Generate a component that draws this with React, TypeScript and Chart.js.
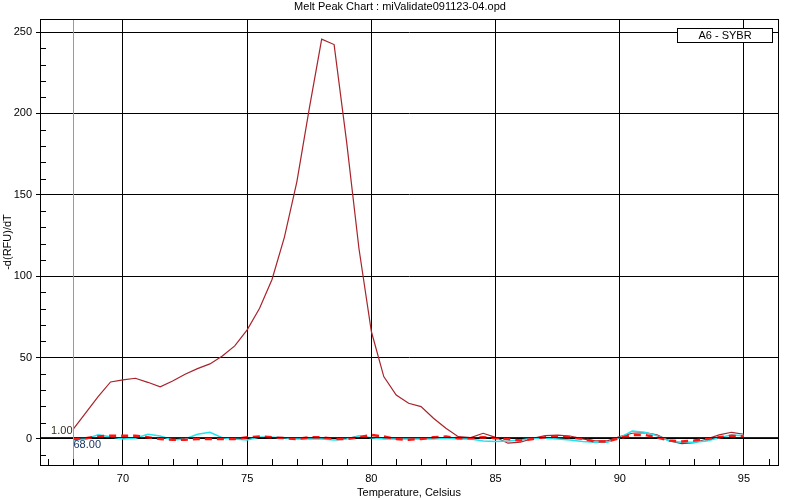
import { useEffect, useRef } from "react";
import { Chart, registerables } from "chart.js";

Chart.register(...registerables);

const TITLE = "Melt Peak Chart : miValidate091123-04.opd";
const X_TITLE = "Temperature, Celsius";
const Y_TITLE = "-d(RFU)/dT";
const LEGEND_LABEL = "A6 - SYBR";

const temperatures = [
  68, 68.5, 69, 69.5, 70, 70.5, 71, 71.5, 72, 72.5, 73, 73.5, 74, 74.5, 75, 75.5,
  76, 76.5, 77, 77.5, 78, 78.5, 79, 79.5, 80, 80.5, 81, 81.5, 82, 82.5, 83, 83.5,
  84, 84.5, 85, 85.5, 86, 86.5, 87, 87.5, 88, 88.5, 89, 89.5, 90, 90.5, 91, 91.5,
  92, 92.5, 93, 93.5, 94, 94.5, 95,
];

const sybrPeak = [
  6, 16, 26, 35, 36.3, 37.3, 34.8, 32, 35.6, 39.8, 43.2, 46.1, 51, 57.2, 67, 80.3,
  98, 124, 158, 203, 245.6, 242.3, 183, 117, 66, 38.3, 27, 21.9, 19.9, 12.7, 6.6, 1.4,
  0.8, 3.5, 1, -2.6, -2, 0.4, 2, 2.4, 1.8, 0, -1.2, -1.2, 1.4, 3.5, 3.9, 2.5,
  -1.2, -2.9, -2.3, 0, 2.5, 4.1, 2.9,
];

const cyanTrace = [
  -0.6, 0, 2.5, 1.4, 0, 0.4, 2.9, 1.8, -0.6, 0, 2.9, 4.1, 0.8, 0, -0.6, 1.2,
  1, 0.8, 0, 0, 0, -0.6, 0, 2, 0.8, 0, 0, 0, 0, 0, 0.4, 0,
  0, -1.2, -1.6, -1.2, -0.6, 0.4, 0.4, 0, -0.6, -1.6, -2, -2, 0.8, 4.9, 4.1, 2,
  -1.2, -2, -2, -1.2, 0.8, 2.5, 2,
];

const redTrace = [
  0, 0.5, 1.5, 2, 2, 2, 1, 0, -0.5, -0.5, 0, 0, 0, 0, 1, 1.5,
  1, 0.5, 0, 1, 1, 0, 0, 1, 2.5, 1.5, 0, -0.5, 0, 1, 1.5, 0.5,
  0.5, 1, 0.5, 0, -1, 0, 1, 1.5, 1, 0, -1.5, -1.5, 0.5, 2.5, 2.5, 1,
  -1, -1.5, -1, 0, 1, 2, 1.5,
];

const xMajorTicks = [70, 75, 80, 85, 90, 95];
const xMinorTicks = [67, 68, 69, 71, 72, 73, 74, 76, 77, 78, 79, 81, 82, 83, 84, 86, 87, 88, 89, 91, 92, 93, 94, 96];
const yMajorTicks = [0, 50, 100, 150, 200, 250];
const yMinorTicks = [-10, 10, 20, 30, 40, 60, 70, 80, 90, 110, 120, 130, 140, 160, 170, 180, 190, 210, 220, 230, 240];

const X_MIN = 66.66;
const X_MAX = 96.37;
const Y_MIN = -16;
const Y_MAX = 258;

const CURSOR_X = 68;
const CURSOR_Y = 1;
const CURSOR_X_LABEL = "68.00";
const CURSOR_Y_LABEL = "1.00";

const FONT_FAMILY = "'Liberation Sans', Arial, sans-serif";

const toPoints = (ys: number[]) => temperatures.map((t, i) => ({ x: t, y: ys[i] }));

const decorPlugin = {
  id: "decor",
  beforeDraw(chart: any) {
    const { ctx } = chart;
    ctx.save();
    ctx.fillStyle = "#ffffff";
    ctx.fillRect(0, 0, chart.width, chart.height);
    ctx.restore();
  },
  afterDatasetsDraw(chart: any) {
    const { ctx, chartArea } = chart;
    const xs = chart.scales.x;
    const ys = chart.scales.y;
    ctx.save();
    // cursor lines
    const cx = Math.round(xs.getPixelForValue(CURSOR_X)) + 0.5;
    const cy = Math.round(ys.getPixelForValue(CURSOR_Y)) + 0.5;
    ctx.lineWidth = 1;
    ctx.strokeStyle = "#0a0ae6";
    ctx.beginPath();
    ctx.moveTo(chartArea.left, cy);
    ctx.lineTo(chartArea.right, cy);
    ctx.stroke();
    ctx.strokeStyle = "#f07868";
    ctx.beginPath();
    ctx.moveTo(cx, chartArea.top);
    ctx.lineTo(cx, chartArea.bottom);
    ctx.stroke();

    // minor ticks
    ctx.strokeStyle = "#000";
    ctx.beginPath();
    for (const v of yMinorTicks) {
      const py = Math.round(ys.getPixelForValue(v)) + 0.5;
      ctx.moveTo(chartArea.left, py);
      ctx.lineTo(chartArea.left + 6, py);
    }
    for (const v of xMinorTicks) {
      const px = Math.round(xs.getPixelForValue(v)) + 0.5;
      ctx.moveTo(px, chartArea.bottom);
      ctx.lineTo(px, chartArea.bottom - 6);
    }
    ctx.stroke();

    // frame
    ctx.strokeRect(
      Math.round(chartArea.left) + 0.5,
      Math.round(chartArea.top) + 0.5,
      Math.round(chartArea.right - chartArea.left),
      Math.round(chartArea.bottom - chartArea.top)
    );

    // cursor labels
    ctx.font = `11px ${FONT_FAMILY}`;
    ctx.textBaseline = "middle";
    ctx.textAlign = "right";
    ctx.fillStyle = "#33301a";
    ctx.fillText(CURSOR_Y_LABEL, cx - 1, cy - 7);
    ctx.textAlign = "left";
    ctx.fillStyle = "#1a3466";
    ctx.fillText(CURSOR_X_LABEL, cx, cy + 7);

    // legend box
    const bx = 677.5, by = 28.5, bw = 95, bh = 14;
    ctx.fillStyle = "#fff";
    ctx.fillRect(bx, by, bw, bh);
    ctx.strokeStyle = "#000";
    ctx.strokeRect(bx, by, bw, bh);
    ctx.fillStyle = "#000";
    ctx.textAlign = "center";
    ctx.fillText(LEGEND_LABEL, bx + bw / 2, by + bh / 2 + 0.5);
    ctx.restore();
  },
  afterDraw(chart: any) {
    const { ctx, chartArea } = chart;
    ctx.save();
    ctx.font = `11px ${FONT_FAMILY}`;
    ctx.fillStyle = "#000";
    ctx.textAlign = "center";
    ctx.textBaseline = "middle";
    ctx.fillText(TITLE, 400, 7);
    ctx.fillText(X_TITLE, (chartArea.left + chartArea.right) / 2, 493);
    ctx.translate(8, (chartArea.top + chartArea.bottom) / 2);
    ctx.rotate(-Math.PI / 2);
    ctx.fillText(Y_TITLE, 0, 0);
    ctx.restore();
  },
};

export default function App() {
  const canvasRef = useRef<HTMLCanvasElement | null>(null);

  useEffect(() => {
    if (!canvasRef.current) return;
    const font = { family: FONT_FAMILY, size: 11 };
    const chart = new Chart(canvasRef.current, {
      type: "line",
      data: {
        datasets: [
          {
            label: "red",
            data: toPoints(redTrace),
            borderColor: "#ff1414",
            borderWidth: 2.5,
            borderDash: [7, 5],
            pointRadius: 0,
            tension: 0,
          },
          {
            label: "cyan",
            data: toPoints(cyanTrace),
            borderColor: "#20e4ee",
            borderWidth: 1.5,
            pointRadius: 0,
            tension: 0,
          },
          {
            label: LEGEND_LABEL,
            data: toPoints(sybrPeak),
            borderColor: "#a8232b",
            borderWidth: 1.2,
            pointRadius: 0,
            tension: 0,
          },
        ],
      },
      options: {
        responsive: false,
        animation: false,
        devicePixelRatio: 1,
        layout: { padding: { top: 19, right: 22, left: 0, bottom: 0 } },
        plugins: {
          legend: { display: false },
          tooltip: { enabled: false },
          title: { display: false },
        },
        scales: {
          x: {
            type: "linear",
            min: X_MIN,
            max: X_MAX,
            afterBuildTicks: (s: any) => {
              s.ticks = xMajorTicks.map((v) => ({ value: v }));
            },
            afterFit: (s: any) => {
              s.height = 35;
            },
            grid: { color: "#000", lineWidth: 1, drawTicks: false },
            border: { color: "#000", width: 1 },
            ticks: { color: "#000", font, padding: 7, maxRotation: 0, autoSkip: false },
          },
          y: {
            type: "linear",
            min: Y_MIN,
            max: Y_MAX,
            afterBuildTicks: (s: any) => {
              s.ticks = yMajorTicks.map((v) => ({ value: v }));
            },
            afterFit: (s: any) => {
              s.width = 40;
            },
            grid: { color: "#000", lineWidth: 1, tickLength: 4 },
            border: { color: "#000", width: 1 },
            ticks: { color: "#000", font, padding: 4, autoSkip: false },
          },
        },
      },
      plugins: [decorPlugin],
    } as any);
    return () => chart.destroy();
  }, []);

  return (
    <div style={{ position: "absolute", left: 0, top: 0, width: 800, height: 500, background: "#fff" }}>
      <canvas ref={canvasRef} width={800} height={500} />
    </div>
  );
}
